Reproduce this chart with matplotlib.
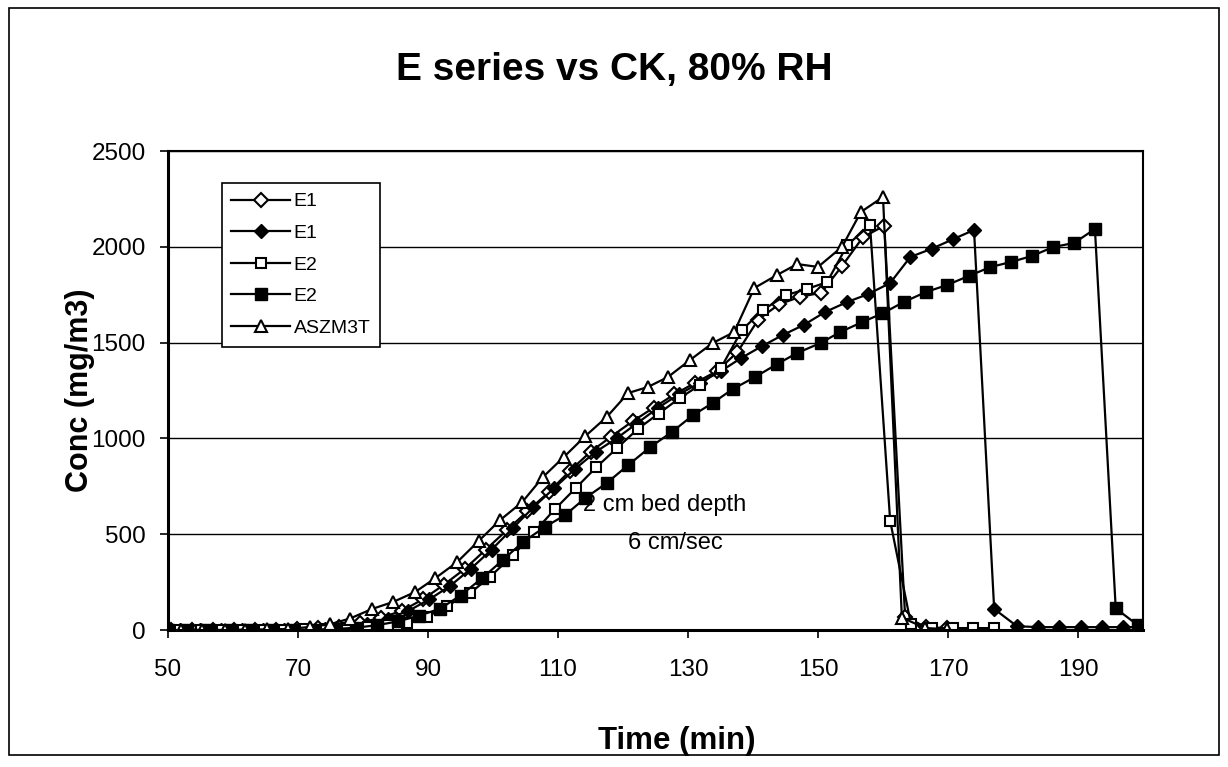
import matplotlib
matplotlib.use('Agg')
import matplotlib.pyplot as plt
from matplotlib.patches import Rectangle

plt.rcParams['font.family'] = ['Liberation Sans', 'DejaVu Sans']

# E1 (open diamonds)
e1a_t = [50.5, 53.7, 57.0, 60.2, 63.4, 66.6, 69.9, 73.1, 76.3, 79.5, 82.8, 86.0,
         89.2, 92.4, 95.7, 98.9, 102.1, 105.3, 108.6, 111.8, 115.0, 118.2, 121.5,
         124.7, 127.9, 131.1, 134.4, 137.6, 140.8, 144.0, 147.3, 150.5, 153.7,
         156.9, 160.2, 163.4, 166.6, 169.8]
e1a_c = [0, 0, 0, 0, 0, 2, 4, 8, 15, 35, 65, 100, 160, 235, 320, 420, 520, 620,
         720, 830, 930, 1010, 1090, 1160, 1230, 1290, 1350, 1450, 1620, 1700,
         1740, 1760, 1900, 2050, 2110, 70, 15, 10]

# E1 (filled diamonds)
e1b_t = [51.8, 55.0, 58.2, 61.4, 64.6, 67.8, 71.0, 74.2, 77.4, 80.6, 83.8, 87.0,
         90.2, 93.4, 96.6, 99.8, 103.0, 106.2, 109.4, 112.6, 115.8, 119.0, 122.2,
         125.4, 128.6, 131.8, 135.0, 138.2, 141.4, 144.6, 147.8, 151.1, 154.5,
         157.7, 161.1, 164.2, 167.5, 170.8, 174.0, 177.1, 180.6, 183.8, 187.1,
         190.5, 193.7, 196.9, 200.0]
e1b_c = [0, 0, 0, 0, 0, 0, 2, 5, 12, 30, 60, 100, 160, 230, 320, 420, 530, 640,
         740, 840, 930, 1000, 1080, 1160, 1230, 1290, 1350, 1420, 1482, 1540,
         1592, 1660, 1712, 1753, 1811, 1947, 1990, 2040, 2088, 110, 20, 15, 15,
         15, 15, 15, 15]

# E2 (open squares)
e2a_t = [51.9, 55.1, 58.3, 61.5, 64.7, 67.9, 71.1, 74.3, 77.5, 80.7, 83.9, 86.8,
         89.8, 92.9, 96.5, 99.5, 103.1, 106.3, 109.5, 112.7, 115.9, 119.1, 122.3,
         125.5, 128.7, 131.9, 135.1, 138.3, 141.5, 145.1, 148.3, 151.4, 154.5,
         158.0, 161.1, 164.3, 167.5, 170.7, 173.9, 177.1]
e2a_c = [0, 0, 0, 0, 0, 2, 3, 5, 10, 18, 25, 37, 68, 125, 193, 277, 390, 510,
         630, 740, 850, 950, 1050, 1130, 1210, 1280, 1370, 1566, 1670, 1748,
         1780, 1816, 2009, 2114, 570, 30, 10, 10, 10, 10]

# E2 (filled squares)
e2b_t = [50.0, 53.0, 56.3, 59.5, 62.7, 66.0, 69.2, 72.4, 75.6, 78.9, 82.1, 85.4,
         88.6, 91.8, 95.0, 98.3, 101.5, 104.6, 108.0, 111.1, 114.2, 117.5, 120.8,
         124.2, 127.5, 130.8, 133.8, 136.9, 140.3, 143.7, 146.8, 150.4, 153.4,
         156.8, 160.0, 163.2, 166.6, 169.8, 173.2, 176.5, 179.7, 182.9, 186.2,
         189.4, 192.6, 195.8, 199.2]
e2b_c = [0, 0, 0, 0, 0, 0, 0, 2, 5, 12, 25, 45, 75, 110, 180, 270, 365, 459,
         538, 600, 689, 767, 861, 955, 1033, 1122, 1185, 1258, 1320, 1388, 1446,
         1498, 1555, 1607, 1654, 1712, 1764, 1800, 1848, 1894, 1921, 1952, 1999,
         2020, 2093, 113, 25]

# ASZM3T (open triangles)
asz_t = [52.0, 55.2, 58.8, 61.8, 65.2, 68.5, 71.8, 74.9, 78.0, 81.4, 84.6, 88.0,
         91.1, 94.5, 97.8, 101.1, 104.5, 107.7, 110.9, 114.2, 117.5, 120.8, 123.8,
         126.9, 130.3, 133.8, 137.1, 140.2, 143.7, 146.8, 150.0, 153.7, 156.6,
         160.0, 162.9, 166.5, 169.8]
asz_c = [0, 0, 0, 2, 3, 5, 16, 30, 60, 110, 146, 198, 270, 355, 465, 574, 668,
         799, 903, 1012, 1112, 1237, 1268, 1320, 1409, 1498, 1555, 1785, 1853,
         1910, 1895, 2000, 2182, 2260, 65, 10, 5]

fig = plt.figure(figsize=(12.28, 7.67), dpi=100)
ax = fig.add_axes([0.1368, 0.1786, 0.794, 0.6245])

lw = 1.6
ax.plot(e1a_t, e1a_c, color='black', lw=lw, marker='D', ms=7, mfc='white', mec='black', mew=1.5, label='E1')
ax.plot(e1b_t, e1b_c, color='black', lw=lw, marker='D', ms=7, mfc='black', mec='black', label='E1')
ax.plot(e2a_t, e2a_c, color='black', lw=lw, marker='s', ms=7, mfc='white', mec='black', mew=1.5, label='E2')
ax.plot(e2b_t, e2b_c, color='black', lw=lw, marker='s', ms=8, mfc='black', mec='black', label='E2')
ax.plot(asz_t, asz_c, color='black', lw=lw, marker='^', ms=9, mfc='white', mec='black', mew=1.5, label='ASZM3T')

ax.set_xlim(50, 200)
ax.set_ylim(0, 2500)
ax.set_xticks([50, 70, 90, 110, 130, 150, 170, 190])
ax.set_yticks([0, 500, 1000, 1500, 2000, 2500])
ax.tick_params(axis='both', labelsize=17.5, direction='out', length=6, width=1.2, colors='black')
ax.tick_params(axis='x', pad=15)
ax.tick_params(axis='y', pad=10)
ax.yaxis.grid(True, color='black', lw=1)
ax.set_axisbelow(True)
for s in ax.spines.values():
    s.set_linewidth(1.5)
    s.set_color('black')
ax.spines['left'].set_linewidth(2.2)
ax.spines['bottom'].set_linewidth(2.2)

ax.set_xlabel('Time (min)', fontsize=22.5, fontweight='bold', va='center')
ax.xaxis.set_label_coords(0.522, -0.232)
ax.set_ylabel('Conc (mg/m3)', fontsize=22, fontweight='bold', va='center')
ax.yaxis.set_label_coords(-0.09, 0.5)
fig.text(0.5, 0.909, 'E series vs CK, 80% RH', fontsize=28, fontweight='bold',
         ha='center', va='center')

ax.text(113.8, 652, '2 cm bed depth', fontsize=17, ha='left', va='center')
ax.text(120.8, 454, '6 cm/sec', fontsize=17, ha='left', va='center')

leg = ax.legend(loc='upper left', bbox_to_anchor=(0.055, 0.933), fontsize=14,
                frameon=True, fancybox=False, edgecolor='black', framealpha=1,
                handlelength=3.0, borderpad=0.5, labelspacing=0.72,
                handletextpad=0.2, borderaxespad=0)
leg.get_frame().set_linewidth(1.2)

fig.patches.append(Rectangle((0.007, 0.015), 0.986, 0.975, transform=fig.transFigure,
                             fill=False, edgecolor='black', lw=1.2))

fig.savefig('out.png', dpi=100)
